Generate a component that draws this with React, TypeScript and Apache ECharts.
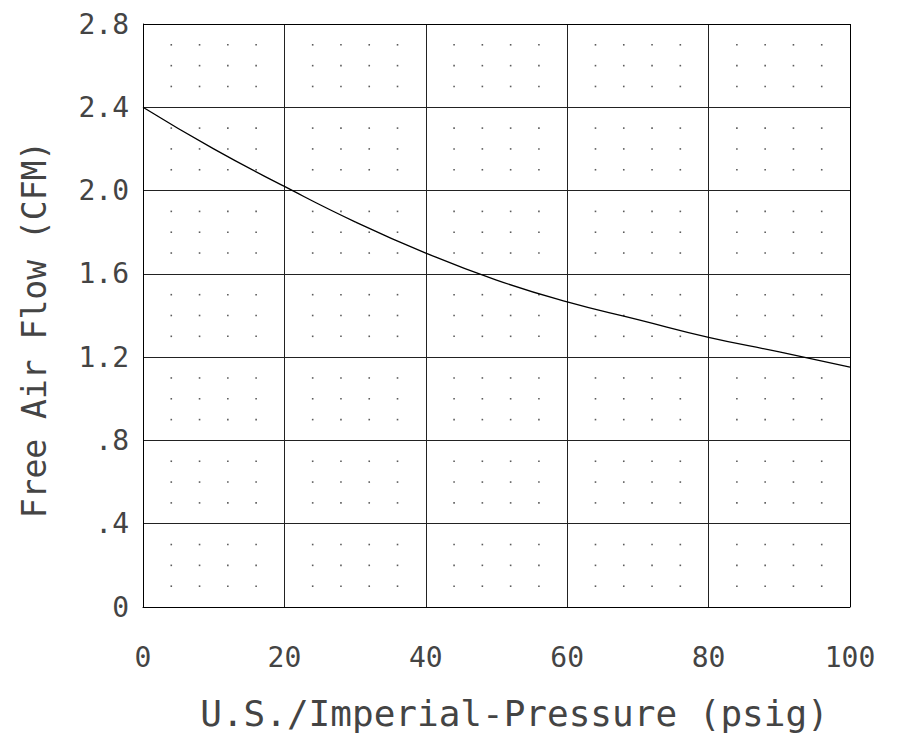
import React, { useEffect, useRef } from "react";
import * as echarts from "echarts";

const pressure = [0, 10, 20, 30, 40, 50, 60, 70, 80, 90, 100];
const flow = [2.4, 2.2, 2.02, 1.85, 1.7, 1.57, 1.465, 1.38, 1.295, 1.225, 1.152];
const yTickLabels: Record<string, string> = {
  "0": "0", "0.4": ".4", "0.8": ".8", "1.2": "1.2", "1.6": "1.6", "2": "2.0", "2.4": "2.4", "2.8": "2.8",
};
const xMajorStep = 20;
const xMinorStep = 4;
const yMajorStep = 0.4;
const yMinorStep = 0.1;
const xMax = 100;
const yMax = 2.8;

const FONT = "DejaVu Sans Mono";
const TEXT_COLOR = "#444";

export default function App() {
  const ref = useRef<HTMLDivElement>(null);
  useEffect(() => {
    if (!ref.current) return;
    const chart = echarts.init(ref.current, null, { renderer: "svg" });
    const dots: number[][] = [];
    const nx = Math.round(xMax / xMinorStep);
    const ny = Math.round(yMax / yMinorStep);
    const xr = Math.round(xMajorStep / xMinorStep);
    const yr = Math.round(yMajorStep / yMinorStep);
    for (let i = 1; i < nx; i++) {
      if (i % xr === 0) continue;
      for (let j = 1; j < ny; j++) {
        if (j % yr === 0) continue;
        dots.push([i * xMinorStep, +(j * yMinorStep).toFixed(2)]);
      }
    }
    chart.setOption({
      animation: false,
      backgroundColor: "#ffffff",
      grid: { left: 143, top: 24, width: 707, height: 583, containLabel: false },
      xAxis: {
        type: "value",
        min: 0,
        max: xMax,
        interval: xMajorStep,
        name: "U.S./Imperial-Pressure (psig)",
        nameLocation: "middle",
        nameGap: 88,
        nameTextStyle: {
          fontFamily: FONT,
          fontWeight: "normal",
          fontSize: 36,
          color: TEXT_COLOR,
          padding: [0, 0, 0, 36],
        },
        axisLine: { show: true, onZero: false, lineStyle: { color: "#000", width: 1 } },
        axisTick: { show: false },
        axisLabel: { margin: 36, fontFamily: FONT, fontSize: 28, color: TEXT_COLOR },
        splitLine: { show: true, lineStyle: { color: "#222", width: 1 } },
      },
      yAxis: {
        type: "value",
        min: 0,
        max: yMax,
        interval: yMajorStep,
        name: "Free Air Flow (CFM)",
        nameLocation: "middle",
        nameGap: 92,
        nameRotate: 90,
        nameTextStyle: {
          fontFamily: FONT,
          fontWeight: "normal",
          fontSize: 33,
          color: TEXT_COLOR,
          padding: [0, 28, 0, 0],
        },
        axisLine: { show: true, onZero: false, lineStyle: { color: "#000", width: 1 } },
        axisTick: { show: false },
        axisLabel: {
          margin: 14,
          fontFamily: FONT,
          fontSize: 28,
          color: TEXT_COLOR,
          formatter: (v: number) => yTickLabels[String(+v.toFixed(1))] ?? String(v),
        },
        splitLine: { show: true, lineStyle: { color: "#222", width: 1 } },
      },
      series: [
        {
          type: "scatter",
          data: dots,
          symbol: "rect",
          symbolSize: 1.6,
          itemStyle: { color: "#333" },
          silent: true,
          z: 1,
        },
        {
          type: "line",
          data: pressure.map((p, i) => [p, flow[i]]),
          smooth: true,
          symbol: "none",
          lineStyle: { color: "#000", width: 1.3 },
          z: 3,
        },
        {
          type: "line",
          data: [],
          markLine: {
            silent: true,
            symbol: "none",
            label: { show: false },
            lineStyle: { color: "#000", width: 1, type: "solid" },
            data: [{ xAxis: xMax }, { yAxis: yMax }],
          },
        },
      ],
    });
    return () => chart.dispose();
  }, []);
  return (
    <div
      ref={ref}
      style={{ position: "fixed", left: 0, top: 0, width: 905, height: 738, background: "#fff" }}
    />
  );
}
